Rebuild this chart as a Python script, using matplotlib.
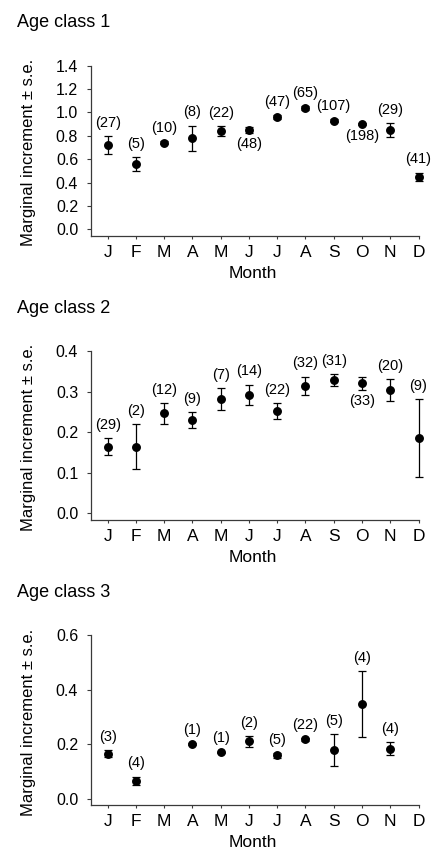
import numpy as np
import matplotlib
matplotlib.use("Agg")
import matplotlib.pyplot as plt

plt.rcParams['font.family'] = ['Liberation Sans', 'DejaVu Sans']

months = ['J', 'F', 'M', 'A', 'M', 'J', 'J', 'A', 'S', 'O', 'N', 'D']

# Age class 1
age1_mean = [0.72, 0.56, 0.74, 0.78, 0.84, 0.85, 0.96, 1.04, 0.93, 0.90, 0.85, 0.45]
age1_se = [0.077, 0.058, 0.012, 0.108, 0.040, 0.025, 0.015, 0.015, 0.015, 0.008, 0.060, 0.035]
age1_n = [27, 5, 10, 8, 22, 48, 47, 65, 107, 198, 29, 41]
age1_below = [False, False, False, False, False, True, False, False, False, True, False, False]

# Age class 2
age2_mean = [0.164, 0.164, 0.246, 0.230, 0.282, 0.292, 0.252, 0.314, 0.329, 0.320, 0.304, 0.186]
age2_se = [0.021, 0.055, 0.025, 0.019, 0.027, 0.025, 0.020, 0.023, 0.015, 0.017, 0.027, 0.096]
age2_n = [29, 2, 12, 9, 7, 14, 22, 32, 31, 33, 20, 9]
age2_below = [False, False, False, False, False, False, False, False, False, True, False, False]

# Age class 3 (no data for March and December)
age3_mean = [0.166, 0.066, np.nan, 0.202, 0.170, 0.211, 0.159, 0.218, 0.179, 0.348, 0.184, np.nan]
age3_se = [0.014, 0.015, np.nan, 0.003, 0.003, 0.020, 0.009, 0.005, 0.058, 0.122, 0.024, np.nan]
age3_n = [3, 4, None, 1, 1, 2, 5, 22, 5, 4, 4, None]
age3_below = [False] * 12

panels = [
    dict(title='Age class 1', mean=age1_mean, se=age1_se, n=age1_n, below=age1_below,
         ylim=(-0.057, 1.4), yticks=[0.0, 0.2, 0.4, 0.6, 0.8, 1.0, 1.2, 1.4],
         rect_px=(90.7, 65.7, 418.5, 236.0), title_base=27.0),
    dict(title='Age class 2', mean=age2_mean, se=age2_se, n=age2_n, below=age2_below,
         ylim=(-0.0165, 0.4), yticks=[0.0, 0.1, 0.2, 0.3, 0.4],
         rect_px=(90.7, 351.0, 418.5, 520.0), title_base=313.0),
    dict(title='Age class 3', mean=age3_mean, se=age3_se, n=age3_n, below=age3_below,
         ylim=(-0.024, 0.6), yticks=[0.0, 0.2, 0.4, 0.6],
         rect_px=(90.7, 635.3, 418.5, 805.3), title_base=597.0),
]

W, H = 433.0, 850.0
fig = plt.figure(figsize=(W / 100, H / 100), dpi=100)

axis_col = '#3a3a3a'
x = np.arange(1, 13)

for p in panels:
    l, t, r, b = p['rect_px']
    ax = fig.add_axes([l / W, 1 - b / H, (r - l) / W, (b - t) / H])
    mean = np.array(p['mean'], dtype=float)
    se = np.array(p['se'], dtype=float)
    cont = ax.errorbar(x, mean, yerr=se, fmt='o', color='black', ms=5.4, mec='black',
                       ecolor='black', elinewidth=0.9, capsize=2.7, capthick=0.9)
    for child in cont.get_children():
        child.set_clip_on(False)
    for xi, m, s, n, below in zip(x, mean, se, p['n'], p['below']):
        if n is None or np.isnan(m):
            continue
        if below:
            ax.annotate(f'({n})', xy=(xi, m - s), xytext=(0, -8), textcoords='offset points',
                        ha='center', va='center', fontsize=10.5)
        else:
            ax.annotate(f'({n})', xy=(xi, m + s), xytext=(0, 9.5), textcoords='offset points',
                        ha='center', va='center', fontsize=10.5)
    ax.set_xlim(0.4, 12)
    ax.set_ylim(*p['ylim'])
    ax.set_yticks(p['yticks'])
    ax.set_yticklabels([f'{v:.1f}' for v in p['yticks']])
    ax.set_xticks(x)
    ax.set_xticklabels(months)
    for side in ('top', 'right'):
        ax.spines[side].set_visible(False)
    for side in ('left', 'bottom'):
        ax.spines[side].set_color(axis_col)
        ax.spines[side].set_linewidth(0.9)
    ax.tick_params(axis='y', direction='out', length=3, width=0.8, color=axis_col,
                   labelsize=11.5, pad=6)
    ax.tick_params(axis='x', direction='out', length=2.5, width=0.8, color=axis_col,
                   labelsize=12.5, pad=4)
    ax.patch.set_alpha(0)
    # titles and axis labels
    fig.text(17 / W, 1 - p['title_base'] / H, p['title'], ha='left', va='baseline', fontsize=13)
    fig.text(28.5 / W, 1 - ((t + b) / 2 + 2) / H, 'Marginal increment \u00b1 s.e.',
             rotation=90, ha='center', va='center', fontsize=12)
    fig.text(((l + r) / 2 - 2) / W, 1 - (b + 37) / H, 'Month', ha='center', va='center',
             fontsize=12.5)

fig.savefig('out.png', dpi=100)
